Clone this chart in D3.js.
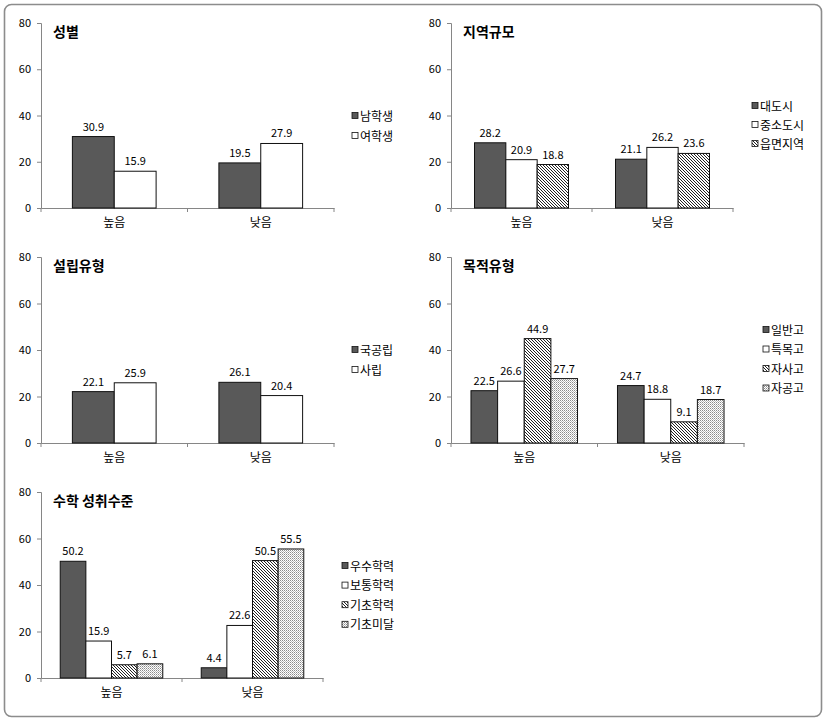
<!DOCTYPE html>
<html><head><meta charset="utf-8">
<script src="https://cdn.jsdelivr.net/npm/d3@7"></script>
<style>body{margin:0;background:#fff;}svg{display:block;}</style>
</head><body>
<script>
const categories = ["높음", "낮음"];
const yTicks = [0, 20, 40, 60, 80];

const p1Title = "성별";
const p1Series = ["남학생", "여학생"];
const p1Values = [[30.9, 19.5], [15.9, 27.9]];

const p2Title = "지역규모";
const p2Series = ["대도시", "중소도시", "읍면지역"];
const p2Values = [[28.2, 21.1], [20.9, 26.2], [18.8, 23.6]];

const p3Title = "설립유형";
const p3Series = ["국공립", "사립"];
const p3Values = [[22.1, 26.1], [25.9, 20.4]];

const p4Title = "목적유형";
const p4Series = ["일반고", "특목고", "자사고", "자공고"];
const p4Values = [[22.5, 24.7], [26.6, 18.8], [44.9, 9.1], [27.7, 18.7]];

const p5Title = "수학 성취수준";
const p5Series = ["우수학력", "보통학력", "기초학력", "기초미달"];
const p5Values = [[50.2, 4.4], [15.9, 22.6], [5.7, 50.5], [6.1, 55.5]];

const W = 827, H = 722;
const FONT = "'Noto Sans CJK KR', 'Noto Sans', sans-serif";
const svg = d3.select("body").append("svg").attr("width", W).attr("height", H);

const defs = svg.append("defs");
const hatch = defs.append("pattern").attr("id", "hatch").attr("patternUnits", "userSpaceOnUse")
  .attr("width", 3).attr("height", 3);
hatch.append("rect").attr("width", 3).attr("height", 3).attr("fill", "#fff");
hatch.append("path").attr("d", "M0,0 L3,3 M-1,2 L1,4 M2,-1 L4,1")
  .attr("stroke", "#222").attr("stroke-width", 1);
const dots = defs.append("pattern").attr("id", "dots").attr("patternUnits", "userSpaceOnUse")
  .attr("width", 2).attr("height", 2);
dots.append("rect").attr("width", 2).attr("height", 2).attr("fill", "#fff");
dots.append("rect").attr("width", 1).attr("height", 1).attr("fill", "#8a8a8a");
dots.append("rect").attr("x", 1).attr("y", 1).attr("width", 1).attr("height", 1).attr("fill", "#bbb");

const fills = ["#595959", "#ffffff", "url(#hatch)", "url(#dots)"];

// outer frame
svg.append("rect").attr("x", 4.5).attr("y", 4.5).attr("width", 817).attr("height", 712)
  .attr("rx", 7).attr("fill", "none").attr("stroke", "#8c8c8c").attr("stroke-width", 1.6);

const panels = [
  {title: p1Title, series: p1Series, values: p1Values, ax: 41, xe: 334, yTop: 23, yBot: 208, legX: 352, legY: 116, legDy: 20},
  {title: p2Title, series: p2Series, values: p2Values, ax: 451, xe: 733, yTop: 23, yBot: 208, legX: 752, legY: 106, legDy: 19},
  {title: p3Title, series: p3Series, values: p3Values, ax: 41, xe: 334, yTop: 257, yBot: 443, legX: 352, legY: 350, legDy: 20},
  {title: p4Title, series: p4Series, values: p4Values, ax: 451, xe: 744, yTop: 257, yBot: 443, legX: 763, legY: 330, legDy: 19.5},
  {title: p5Title, series: p5Series, values: p5Values, ax: 41, xe: 323, yTop: 492, yBot: 678, legX: 342, legY: 566, legDy: 19.6}
];

panels.forEach(p => {
  const g = svg.append("g");
  const y = d3.scaleLinear().domain([0, 80]).range([p.yBot, p.yTop]);
  const x = d3.scaleBand().domain(categories).range([p.ax, p.xe]).padding(0);
  const n = p.series.length;
  const bw = x.bandwidth() / (n + 1.5);
  const xs = d3.scaleBand().domain(p.series).range([0, bw * n]).padding(0);
  const off = (x.bandwidth() - bw * n) / 2;

  // y axis
  const yAxis = g.append("g").attr("transform", `translate(${p.ax},0)`)
    .call(d3.axisLeft(y).tickValues(yTicks).tickSize(4).tickPadding(6));
  yAxis.select(".domain").attr("stroke", "#868686");
  yAxis.selectAll(".tick line").attr("stroke", "#868686");
  yAxis.selectAll("text").attr("font-family", FONT).attr("font-size", 11).attr("fill", "#000");

  // x axis
  const xAxis = g.append("g").attr("transform", `translate(0,${p.yBot})`)
    .call(d3.axisBottom(x).tickSize(0).tickPadding(10));
  xAxis.select(".domain").attr("stroke", "#868686");
  xAxis.selectAll("text").attr("font-family", FONT).attr("font-size", 12).attr("fill", "#000");
  // category separator ticks
  const edges = [p.ax, ...categories.map(c => x(c) + x.bandwidth())];
  g.selectAll(".xt").data(edges).join("line")
    .attr("x1", d => d).attr("x2", d => d).attr("y1", p.yBot).attr("y2", p.yBot + 4)
    .attr("stroke", "#868686");

  // bars
  p.series.forEach((s, si) => {
    categories.forEach((c, ci) => {
      const v = p.values[si][ci];
      const bx = x(c) + off + xs(s);
      g.append("rect").attr("x", bx).attr("y", y(v)).attr("width", xs.bandwidth())
        .attr("height", y(0) - y(v)).attr("fill", fills[si])
        .attr("stroke", "#111").attr("stroke-width", 1);
      g.append("text").attr("x", bx + xs.bandwidth() / 2).attr("y", y(v) - 6)
        .attr("text-anchor", "middle").attr("font-family", FONT).attr("font-size", 11)
        .text(v.toFixed(1));
    });
  });

  // title
  g.append("text").attr("x", p.ax + 12).attr("y", p.yTop + 14)
    .attr("font-family", FONT).attr("font-size", 14).attr("font-weight", "bold").text(p.title);

  // legend
  p.series.forEach((s, si) => {
    const ly = p.legY + si * p.legDy;
    g.append("rect").attr("x", p.legX).attr("y", ly - 3.5).attr("width", 6).attr("height", 6)
      .attr("fill", fills[si]).attr("stroke", "#111").attr("stroke-width", 0.8);
    g.append("text").attr("x", p.legX + 8).attr("y", ly + 4.5)
      .attr("font-family", FONT).attr("font-size", 12).text(s);
  });
});
</script>
</body></html>
